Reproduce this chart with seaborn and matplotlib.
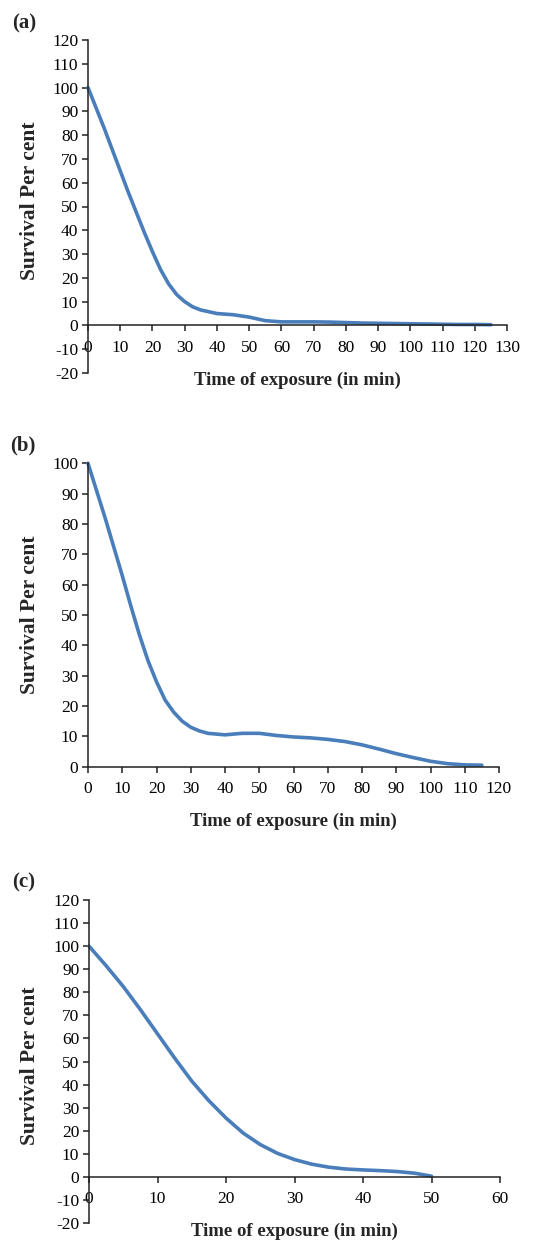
import numpy as np
import pandas as pd
import matplotlib
matplotlib.use("Agg")
import matplotlib.pyplot as plt
import seaborn as sns

# ---------------- data ----------------
time_a = [0, 2.5, 5, 7.5, 10, 12.5, 15, 17.5, 20, 22.5, 25, 27.5, 30, 32.5, 35, 40, 45, 50, 55, 60,
          65, 70, 75, 80, 85, 90, 95, 100, 105, 110, 115, 120, 125]
surv_a = [100, 91.5, 83, 74, 65, 56, 47.5, 39, 31, 23.5, 17.5, 13, 10, 7.8, 6.5, 5, 4.5, 3.5, 2, 1.5,
          1.5, 1.5, 1.4, 1.2, 1.0, 0.9, 0.8, 0.7, 0.6, 0.5, 0.4, 0.4, 0.3]

time_b = [0, 2.5, 5, 7.5, 10, 12.5, 15, 17.5, 20, 22.5, 25, 27.5, 30, 32.5, 35, 40, 45, 50, 55, 60,
          65, 70, 75, 80, 85, 90, 95, 100, 105, 110, 115]
surv_b = [100, 91, 82, 72.5, 63, 53, 43.5, 35, 28, 22, 18, 15, 13, 11.8, 11, 10.5, 11, 11, 10.3, 9.8,
          9.5, 9, 8.3, 7.2, 5.8, 4.3, 3, 1.8, 1.0, 0.6, 0.5]

time_c = [0, 2.5, 5, 7.5, 10, 12.5, 15, 17.5, 20, 22.5, 25, 27.5, 30, 32.5, 35, 37.5, 40,
          42.5, 45, 47.5, 50]
surv_c = [100, 91.5, 82.5, 72.5, 62, 51.5, 41.5, 33, 25.5, 19, 14, 10.2, 7.5, 5.5, 4.2, 3.4, 3,
          2.7, 2.3, 1.6, 0.3]

xticks_a = list(range(0, 131, 10))
yticks_a = list(range(-20, 121, 10))
xticks_b = list(range(0, 121, 10))
yticks_b = list(range(0, 101, 10))
xticks_c = list(range(0, 61, 10))
yticks_c = list(range(-20, 121, 10))

panel_labels = ["(a)", "(b)", "(c)"]
xlabel_text = "Time of exposure (in min)"
ylabel_text = "Survival Per cent"

# ---------------- style ----------------
sns.set_style("ticks")
plt.rcParams['font.family'] = ['Liberation Serif', 'DejaVu Serif']
plt.rcParams['axes.unicode_minus'] = False
plt.rcParams['axes.linewidth'] = 1.1
plt.rcParams['xtick.major.width'] = 1.1
plt.rcParams['ytick.major.width'] = 1.1

W, H = 542, 1243
fig = plt.figure(figsize=(W / 100, H / 100), dpi=100)

LINE_COLOR = "#4A7EBB"

def px_axes(left, right, top, bottom):
    return [left / W, 1 - bottom / H, (right - left) / W, (bottom - top) / H]

specs = [
    dict(rect=px_axes(88, 507, 40, 373), t=time_a, s=surv_a, xlim=(0, 130), ylim=(-20, 120),
         xt=xticks_a, yt=yticks_a, zero_spine=True, xlab_y=380, ylab_y=201,
         lab_xy=(12, 13)),
    dict(rect=px_axes(88, 499, 463.3, 766.7), t=time_b, s=surv_b, xlim=(0, 120), ylim=(0, 100),
         xt=xticks_b, yt=yticks_b, zero_spine=False, xlab_y=821, ylab_y=615,
         lab_xy=(10, 435)),
    dict(rect=px_axes(89, 500, 900, 1223), t=time_c, s=surv_c, xlim=(0, 60), ylim=(-20, 120),
         xt=xticks_c, yt=yticks_c, zero_spine=True, xlab_y=1231, ylab_y=1066,
         lab_xy=(12, 872)),
]

for sp, plab in zip(specs, panel_labels):
    ax = fig.add_axes(sp["rect"])
    df = pd.DataFrame({"time": sp["t"], "survival": sp["s"]})
    sns.lineplot(data=df, x="time", y="survival", ax=ax, color=LINE_COLOR,
                 linewidth=2.6, clip_on=False)
    ax.set_xlim(*sp["xlim"])
    ax.set_ylim(*sp["ylim"])
    ax.set_xticks(sp["xt"])
    ax.set_yticks(sp["yt"])
    ax.spines["top"].set_visible(False)
    ax.spines["right"].set_visible(False)
    if sp["zero_spine"]:
        ax.spines["bottom"].set_position(("data", 0))
    for s in ("left", "bottom"):
        ax.spines[s].set_color("#222222")
    ax.tick_params(axis="both", direction="out", length=4, labelsize=12.5,
                   colors="#222222", labelcolor="black")
    ax.tick_params(axis="y", pad=3)
    ax.tick_params(axis="x", pad=6.5)
    ax.set_facecolor("white")

    left_px = sp["rect"][0] * W
    width_px = sp["rect"][2] * W
    bottom_px = (1 - sp["rect"][1]) * H
    height_px = sp["rect"][3] * H
    ax.set_xlabel(xlabel_text, fontsize=13.5, fontweight="bold", va="center")
    ax.xaxis.set_label_coords(0.5, (bottom_px - sp["xlab_y"]) / height_px)
    ax.set_ylabel(ylabel_text, fontsize=15.5, fontweight="bold", va="center")
    ax.yaxis.set_label_coords((30 - left_px) / width_px,
                              (bottom_px - sp["ylab_y"]) / height_px)

    fig.text(sp["lab_xy"][0] / W, 1 - sp["lab_xy"][1] / H, plab, fontsize=15,
             fontweight="bold", ha="left", va="top")

fig.savefig("out.png", dpi=100, facecolor="white")
